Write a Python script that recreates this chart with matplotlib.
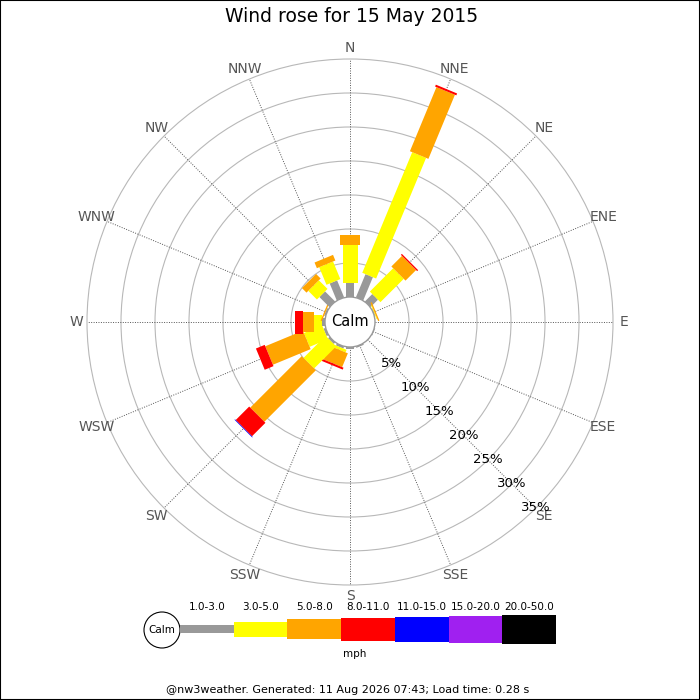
import numpy as np
import matplotlib
matplotlib.use('Agg')
import matplotlib.pyplot as plt
from matplotlib.patches import Polygon, Circle, Rectangle

# --- data (percent of observations per direction and speed band) ---
directions = ['N', 'NNE', 'NE', 'ENE', 'E', 'ESE', 'SE', 'SSE',
              'S', 'SSW', 'SW', 'WSW', 'W', 'WNW', 'NW', 'NNW']
speed_bands = ['1.0-3.0', '3.0-5.0', '5.0-8.0', '8.0-11.0',
               '11.0-15.0', '15.0-20.0', '20.0-50.0']
band_colors = ['#999999', '#ffff00', '#ffa500', '#ff0000',
               '#0000ff', '#a020f0', '#000000']

pct_1_3 = [2.1, 3.7, 1.55, 0.1, 0.0, 0.1, 0.0, 0.2, 0.3, 0.3, 0.3, 0.3, 0.5, 0.2, 2.1, 2.7]
pct_3_5 = [5.55, 19.2, 4.85, 0.1, 0.0, 0.0, 0.0, 0.0, 0.0, 0.4, 4.6, 2.9, 1.1, 0.0, 1.8, 2.8]
pct_5_8 = [1.45, 10.2, 2.2, 0.2, 0.0, 0.0, 0.0, 0.0, 0.0, 2.2, 10.7, 6.0, 1.7, 0.2, 0.95, 0.9]
pct_8_11 = [0.0, 0.3, 0.2, 0.0, 0.0, 0.0, 0.0, 0.0, 0.0, 0.3, 2.8, 1.4, 1.1, 0.0, 0.0, 0.0]
pct_11_15 = [0.0, 0.0, 0.0, 0.0, 0.0, 0.0, 0.0, 0.0, 0.0, 0.0, 0.1, 0.0, 0.0, 0.0, 0.0, 0.0]
pct_15_20 = [0.0] * 16
pct_20_50 = [0.0] * 16

ring_pcts = [5, 10, 15, 20, 25, 30, 35]
title = 'Wind rose for 15 May 2015'
footer = '@nw3weather. Generated: 11 Aug 2026 07:43; Load time: 0.28 s'

# --- geometry (pixels) ---
px_per_pct = 6.8
calm_px = 25
band_px = [8, 15, 20, 23, 25, 27, 29]
cx, cy = 350, 322

calm_r = calm_px / px_per_pct
band_w = [w / px_per_pct for w in band_px]

fig = plt.figure(figsize=(7, 7), dpi=100)
ax = fig.add_axes([0, 0, 1, 1])
ax.set_xlim(-cx / px_per_pct, (700 - cx) / px_per_pct)
ax.set_ylim(-(700 - cy) / px_per_pct, cy / px_per_pct)
ax.axis('off')

outer_r = calm_r + ring_pcts[-1]

# Ringe
for p in ring_pcts:
    ax.add_patch(Circle((0, 0), calm_r + p, fill=False, ec='#b8b8b8', lw=0.8, zorder=1))

# Speichen und Richtungsbeschriftung
angles = np.arange(16) * 22.5
for ang, name in zip(angles, directions):
    t = np.radians(ang)
    ux, uy = np.sin(t), np.cos(t)
    ax.plot([calm_r * ux, outer_r * ux], [calm_r * uy, outer_r * uy],
            ls=(0, (1, 1.5)), color='#555555', lw=0.7, zorder=1)
    lr = 274 / px_per_pct
    ax.text(lr * ux, lr * uy, name, ha='center', va='center',
            fontsize=10, color='#555555', zorder=5)

# Balken
series = [pct_1_3, pct_3_5, pct_5_8, pct_8_11, pct_11_15, pct_15_20, pct_20_50]
for i, ang in enumerate(angles):
    t = np.radians(ang)
    u = np.array([np.sin(t), np.cos(t)])
    v = np.array([np.cos(t), -np.sin(t)])
    r0 = calm_r
    for b, vals in enumerate(series):
        val = vals[i]
        if val <= 0:
            continue
        r1 = r0 + val
        h = band_w[b] / 2
        pts = [r0 * u + h * v, r1 * u + h * v, r1 * u - h * v, r0 * u - h * v]
        ax.add_patch(Polygon(pts, closed=True, fc=band_colors[b], ec='none', zorder=3))
        r0 = r1

# Calm-Kreis
ax.add_patch(Circle((0, 0), calm_r, fc='white', ec='#999999', lw=1.0, zorder=4))
ax.text(0, 0, 'Calm', ha='center', va='center', fontsize=10.5, zorder=6)

# Prozentbeschriftung
t = np.radians(135)
for p in ring_pcts:
    r = calm_r + p
    ax.text(r * np.sin(t), r * np.cos(t), f'{p}%', ha='center', va='center',
            fontsize=9.5, color='black', zorder=6)

# --- Overlay in Pixelkoordinaten: Titel, Legende, Fusszeile ---
ov = fig.add_axes([0, 0, 1, 1])
ov.set_xlim(0, 700)
ov.set_ylim(700, 0)
ov.axis('off')
ov.patch.set_alpha(0)

ov.text(352, 17, title, ha='center', va='center', fontsize=13.5)

leg_x0 = 180
leg_step = 53.7
leg_cy = 629
ov.add_patch(Circle((162, 630), 18, fc='white', ec='black', lw=0.8))
ov.text(162, 630, 'Calm', ha='center', va='center', fontsize=7.5)
for b, (lab, col) in enumerate(zip(speed_bands, band_colors)):
    x = leg_x0 + b * leg_step
    hgt = band_px[b]
    ov.add_patch(Rectangle((x, leg_cy - hgt / 2), leg_step, hgt, fc=col, ec='none'))
    ov.text(x + leg_step / 2, 607, lab, ha='center', va='center', fontsize=7.5)
ov.text(355, 654, 'mph', ha='center', va='center', fontsize=7.5)
ov.text(348, 690, footer, ha='center', va='center', fontsize=8)

# Rahmen
fig.patches.append(Rectangle((0, 0), 1, 1, transform=fig.transFigure,
                             fill=False, ec='black', lw=1.5))

fig.savefig('out.png', dpi=100)
